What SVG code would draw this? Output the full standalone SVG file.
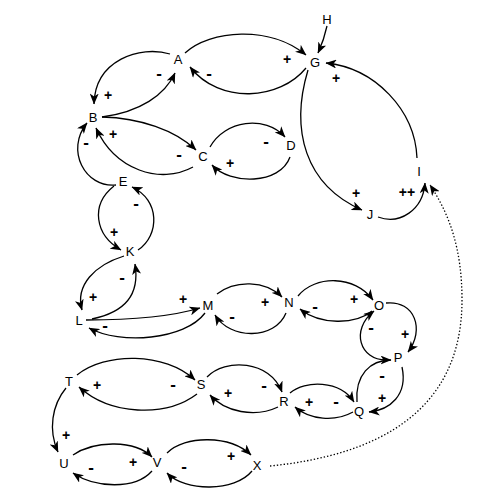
<svg xmlns="http://www.w3.org/2000/svg" width="500" height="502" viewBox="0 0 500 502">
<defs>
<style>
.e{fill:none;stroke:#000;stroke-width:1.3;marker-end:url(#ah)}
.d{fill:none;stroke:#000;stroke-width:1.3;stroke-dasharray:1.4 2;marker-end:url(#ah)}
.n{font-family:"Liberation Sans",Arial,sans-serif;font-size:13px;fill:#000;text-anchor:middle}
.s{font-family:"Liberation Sans",Arial,sans-serif;font-size:14px;font-weight:bold;fill:#000;text-anchor:middle}
.m{font-family:"Liberation Sans",Arial,sans-serif;font-size:17px;font-weight:bold;fill:#000;text-anchor:middle}
</style>
<marker id="ah" markerUnits="userSpaceOnUse" markerWidth="11" markerHeight="9" refX="10.5" refY="4.5" orient="auto" viewBox="0 0 11 9">
<path d="M0,0 L11,4.5 L0,9 L3,4.5 z" fill="#000"/>
</marker>
</defs>
<rect width="500" height="502" fill="#fff"/>
<g id="connectors">
<path class="e" d="M185,53 C210,30 270,25 306,55"/>
<path class="e" d="M306,68 C280,100 220,105 190,67"/>
<path class="e" d="M170,54 C140,45 95,60 94,104"/>
<path class="e" d="M102,117 C140,112 165,95 175,73"/>
<path class="e" d="M327,26 Q324,40 318,53"/>
<path class="e" d="M417,158 C415,110 375,68 326,63"/>
<path class="e" d="M308,70 C290,130 305,185 362,210"/>
<path class="e" d="M378,217 C400,225 423,210 425,183"/>
<path class="d" d="M270,466 C380,455 462,410 462,300 C462,250 450,215 430,185"/>
<path class="e" d="M102,117 C140,118 175,130 196,150"/>
<path class="e" d="M193,167 C160,185 115,170 96,128"/>
<path class="e" d="M210,147 C225,120 265,115 285,137"/>
<path class="e" d="M290,157 C280,185 230,185 212,165"/>
<path class="e" d="M116,185 C85,188 65,150 87,123"/>
<path class="e" d="M114,186 C90,205 95,235 121,250"/>
<path class="e" d="M138,250 C160,235 160,200 132,187"/>
<path class="e" d="M124,256 C95,265 75,285 82,310"/>
<path class="e" d="M92,319 C125,312 140,295 135,264"/>
<path class="e" d="M86,320 C130,320 170,317 200,308"/>
<path class="e" d="M205,313 C185,340 120,345 89,328"/>
<path class="e" d="M217,294 C235,280 265,280 282,297"/>
<path class="e" d="M286,313 C275,340 230,340 215,315"/>
<path class="e" d="M298,296 C315,275 355,275 373,300"/>
<path class="e" d="M372,311 C355,325 320,325 300,309"/>
<path class="e" d="M386,360 C360,360 350,330 374,311"/>
<path class="e" d="M386,303 C415,300 425,330 408,352"/>
<path class="e" d="M357,402 C355,375 370,360 391,360"/>
<path class="e" d="M402,367 C408,395 390,410 369,412"/>
<path class="e" d="M290,393 C305,380 340,380 354,402"/>
<path class="e" d="M353,412 C335,422 310,420 295,407"/>
<path class="e" d="M207,377 C225,358 270,360 282,392"/>
<path class="e" d="M278,407 C255,418 225,412 210,395"/>
<path class="e" d="M77,375 C105,352 165,352 195,380"/>
<path class="e" d="M197,394 C165,418 110,415 79,387"/>
<path class="e" d="M66,388 C52,405 48,430 58,452"/>
<path class="e" d="M73,455 C95,440 135,440 152,457"/>
<path class="e" d="M152,471 C135,490 95,488 73,473"/>
<path class="e" d="M167,453 C185,435 230,435 251,455"/>
<path class="e" d="M252,471 C235,492 185,492 167,473"/>
<g id="signs">
<text class="s" x="287" y="64">+</text>
<text class="m" x="209" y="79">-</text>
<text class="s" x="108" y="100">+</text>
<text class="m" x="159" y="79">-</text>
<text class="s" x="336" y="83">+</text>
<text class="s" x="356" y="198">+</text>
<text class="s" x="407" y="197">++</text>
<text class="m" x="179" y="160">-</text>
<text class="s" x="113" y="139">+</text>
<text class="m" x="266" y="147">-</text>
<text class="s" x="230" y="168">+</text>
<text class="m" x="86" y="148">-</text>
<text class="s" x="114" y="237">+</text>
<text class="m" x="136" y="209">-</text>
<text class="s" x="93" y="302">+</text>
<text class="m" x="122" y="283">-</text>
<text class="s" x="183" y="304">+</text>
<text class="m" x="105" y="331">-</text>
<text class="s" x="265" y="307">+</text>
<text class="m" x="232" y="322">-</text>
<text class="s" x="354" y="304">+</text>
<text class="m" x="315" y="312">-</text>
<text class="m" x="371" y="333">-</text>
<text class="s" x="405" y="339">+</text>
<text class="m" x="382" y="381">-</text>
<text class="s" x="382" y="403">+</text>
<text class="m" x="336" y="407">-</text>
<text class="s" x="309" y="407">+</text>
<text class="m" x="264" y="391">-</text>
<text class="s" x="228" y="398">+</text>
<text class="m" x="173" y="390">-</text>
<text class="s" x="97" y="390">+</text>
<text class="s" x="66" y="440">+</text>
<text class="s" x="133" y="467">+</text>
<text class="m" x="91" y="473">-</text>
<text class="s" x="231" y="461">+</text>
<text class="m" x="184" y="472">-</text>
</g>
</g>
<g id="node-H"><text class="n" x="327" y="24">H</text></g>
<g id="node-G"><text class="n" x="315" y="67">G</text></g>
<g id="node-A"><text class="n" x="178" y="64">A</text></g>
<g id="node-B"><text class="n" x="93" y="122">B</text></g>
<g id="node-C"><text class="n" x="203" y="161">C</text></g>
<g id="node-D"><text class="n" x="291" y="150">D</text></g>
<g id="node-E"><text class="n" x="123" y="186">E</text></g>
<g id="node-I"><text class="n" x="419" y="176">I</text></g>
<g id="node-J"><text class="n" x="370" y="219">J</text></g>
<g id="node-K"><text class="n" x="130" y="256">K</text></g>
<g id="node-L"><text class="n" x="79" y="325">L</text></g>
<g id="node-M"><text class="n" x="208" y="310">M</text></g>
<g id="node-N"><text class="n" x="289" y="307">N</text></g>
<g id="node-O"><text class="n" x="379" y="310">O</text></g>
<g id="node-P"><text class="n" x="398" y="362">P</text></g>
<g id="node-Q"><text class="n" x="359" y="416">Q</text></g>
<g id="node-R"><text class="n" x="284" y="406">R</text></g>
<g id="node-S"><text class="n" x="201" y="389">S</text></g>
<g id="node-T"><text class="n" x="69" y="386">T</text></g>
<g id="node-U"><text class="n" x="64" y="468">U</text></g>
<g id="node-V"><text class="n" x="157" y="467">V</text></g>
<g id="node-X"><text class="n" x="257" y="470">X</text></g>
</svg>
